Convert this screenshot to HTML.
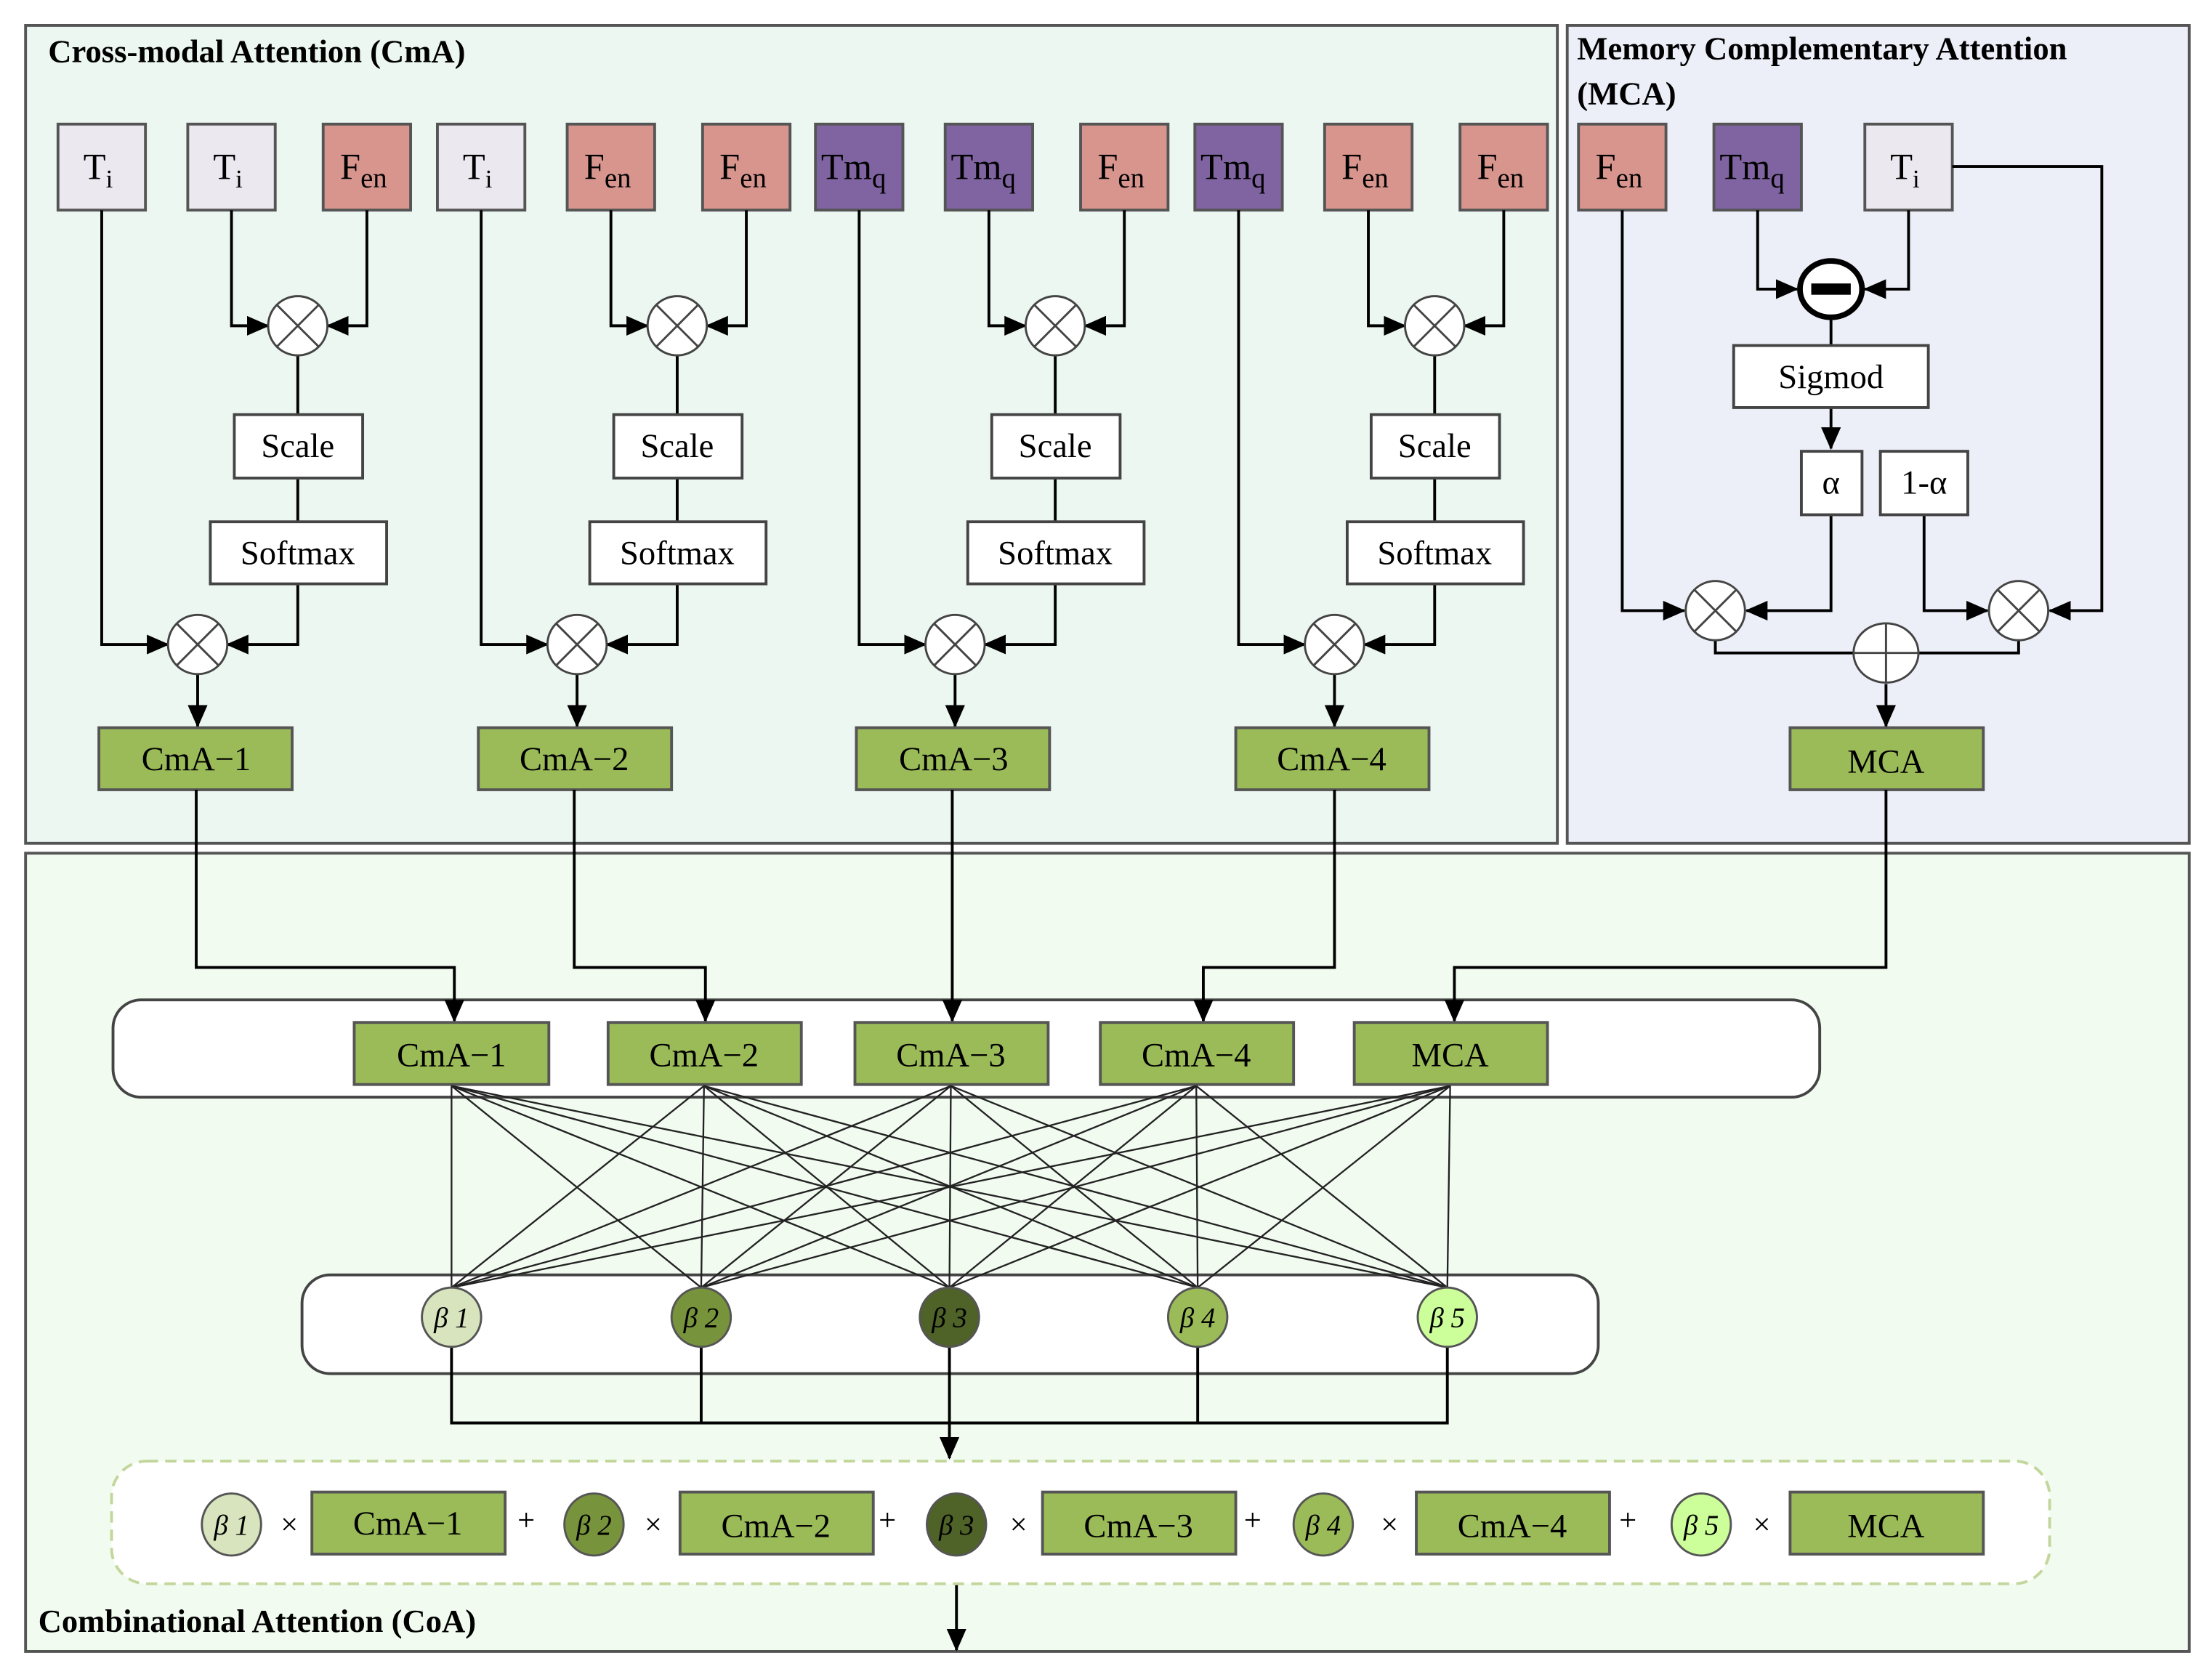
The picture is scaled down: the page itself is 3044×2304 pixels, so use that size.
<!DOCTYPE html>
<html><head><meta charset="utf-8">
<style>
html,body{margin:0;padding:0;background:#fff;}
svg{display:block;}
text{font-family:"Liberation Serif",serif;fill:#000;}
.t{font-size:26px;}
.b{font-size:24px;}
.h{font-size:23px;font-weight:bold;}
</style></head>
<body>
<svg id="s" width="3044" height="2304" viewBox="0 0 1568 1187" xmlns="http://www.w3.org/2000/svg">
<defs>
<marker id="a" markerWidth="10" markerHeight="10" refX="9" refY="5" orient="auto" markerUnits="userSpaceOnUse">
<path d="M0,0 L10,5 L0,10 L3,5 z" fill="#000"/></marker>
<marker id="a2" markerWidth="16" markerHeight="16" refX="15" refY="8" orient="auto" markerUnits="userSpaceOnUse">
<path d="M0,1 L16,8 L0,15 z" fill="#000"/></marker>
</defs>
<rect width="1568" height="1187" fill="#fff"/>
<!-- panels -->
<rect x="18" y="18" width="1086" height="580" fill="#ecf7f2" stroke="#555" stroke-width="2"/>
<rect x="1111" y="18" width="441" height="580" fill="#eceef8" stroke="#555" stroke-width="2"/>
<rect x="18" y="605" width="1534" height="566" fill="#f1fbf0" stroke="#555" stroke-width="2"/>
<text x="34" y="44" class="h">Cross-modal Attention (CmA)</text>
<text x="1118" y="42" class="h">Memory Complementary Attention</text>
<text x="1118" y="74" class="h">(MCA)</text>
<text x="27" y="1157" class="h">Combinational Attention (CoA)</text>

<g id="cma" stroke="#000" stroke-width="2" fill="none"></g>

<!-- tokens -->
<g stroke="#555" stroke-width="2">
<rect x="41" y="88" width="62" height="61" fill="#ebe8ef"/>
<rect x="133" y="88" width="62" height="61" fill="#ebe8ef"/>
<rect x="229" y="88" width="62" height="61" fill="#d8958e"/>
<rect x="310" y="88" width="62" height="61" fill="#ebe8ef"/>
<rect x="402" y="88" width="62" height="61" fill="#d8958e"/>
<rect x="498" y="88" width="62" height="61" fill="#d8958e"/>
<rect x="578" y="88" width="62" height="61" fill="#8064a2"/>
<rect x="670" y="88" width="62" height="61" fill="#8064a2"/>
<rect x="766" y="88" width="62" height="61" fill="#d8958e"/>
<rect x="847" y="88" width="62" height="61" fill="#8064a2"/>
<rect x="939" y="88" width="62" height="61" fill="#d8958e"/>
<rect x="1035" y="88" width="62" height="61" fill="#d8958e"/>
<rect x="1119" y="88" width="62" height="61" fill="#d8958e"/>
<rect x="1215" y="88" width="62" height="61" fill="#8064a2"/>
<rect x="1322" y="88" width="62" height="61" fill="#ebe8ef"/>
</g>
<g class="t">
<text x="59" y="127">T<tspan font-size="18" dy="6">i</tspan></text>
<text x="151" y="127">T<tspan font-size="18" dy="6">i</tspan></text>
<text x="241" y="127">F<tspan font-size="20" dy="6">en</tspan></text>
<text x="328" y="127">T<tspan font-size="18" dy="6">i</tspan></text>
<text x="414" y="127">F<tspan font-size="20" dy="6">en</tspan></text>
<text x="510" y="127">F<tspan font-size="20" dy="6">en</tspan></text>
<text x="582" y="127">Tm<tspan font-size="20" dy="6">q</tspan></text>
<text x="674" y="127">Tm<tspan font-size="20" dy="6">q</tspan></text>
<text x="778" y="127">F<tspan font-size="20" dy="6">en</tspan></text>
<text x="851" y="127">Tm<tspan font-size="20" dy="6">q</tspan></text>
<text x="951" y="127">F<tspan font-size="20" dy="6">en</tspan></text>
<text x="1047" y="127">F<tspan font-size="20" dy="6">en</tspan></text>
<text x="1131" y="127">F<tspan font-size="20" dy="6">en</tspan></text>
<text x="1219" y="127">Tm<tspan font-size="20" dy="6">q</tspan></text>
<text x="1340" y="127">T<tspan font-size="18" dy="6">i</tspan></text>
</g>

<g class="b" text-anchor="middle">
<text x="211" y="324">Scale</text><text x="480" y="324">Scale</text><text x="748" y="324">Scale</text><text x="1017" y="324">Scale</text>
<text x="211" y="400">Softmax</text><text x="480" y="400">Softmax</text><text x="748" y="400">Softmax</text><text x="1017" y="400">Softmax</text>
<text x="139" y="546">CmA−1</text><text x="407" y="546">CmA−2</text><text x="676" y="546">CmA−3</text><text x="944" y="546">CmA−4</text>
</g>

<!-- MCA panel -->
<g stroke="#000" stroke-width="2" fill="none">
<polyline points="1246,149 1246,205 1274,205" marker-end="url(#a2)"/>
<polyline points="1353,149 1353,205 1322,205" marker-end="url(#a2)"/>
<line x1="1298" y1="225" x2="1298" y2="245"/>
<line x1="1298" y1="289" x2="1298" y2="318" marker-end="url(#a2)"/>
<polyline points="1150,149 1150,433 1194,433" marker-end="url(#a2)"/>
<polyline points="1298,365 1298,433 1238,433" marker-end="url(#a2)"/>
<polyline points="1364,365 1364,433 1409,433" marker-end="url(#a2)"/>
<polyline points="1384,118 1490,118 1490,433 1453,433" marker-end="url(#a2)"/>
<polyline points="1216,453 1216,463 1315,463"/>
<polyline points="1431,453 1431,463 1359,463"/>
<line x1="1337" y1="485" x2="1337" y2="515" marker-end="url(#a2)"/>
</g>
<ellipse cx="1298" cy="205" rx="22" ry="20" fill="#fff" stroke="#000" stroke-width="4"/>
<rect x="1284" y="201" width="28" height="8" fill="#000"/>
<rect x="1229" y="245" width="138" height="44" fill="#fff" stroke="#444" stroke-width="2"/>
<text x="1298" y="275" class="b" text-anchor="middle">Sigmod</text>
<rect x="1277" y="320" width="43" height="45" fill="#fff" stroke="#444" stroke-width="2"/>
<text x="1298" y="350" class="b" text-anchor="middle">α</text>
<rect x="1333" y="320" width="62" height="45" fill="#fff" stroke="#444" stroke-width="2"/>
<text x="1364" y="350" class="b" text-anchor="middle">1-α</text>
<g fill="#fff" stroke="#444" stroke-width="1.5">
<ellipse cx="1216" cy="433" rx="21" ry="21"/><line x1="1201" y1="418" x2="1231" y2="448"/><line x1="1231" y1="418" x2="1201" y2="448"/>
<ellipse cx="1431" cy="433" rx="21" ry="21"/><line x1="1416" y1="418" x2="1446" y2="448"/><line x1="1446" y1="418" x2="1416" y2="448"/>
<ellipse cx="1337" cy="463" rx="23" ry="21"/><line x1="1314" y1="463" x2="1360" y2="463"/><line x1="1337" y1="442" x2="1337" y2="484"/>
</g>
<rect x="1269" y="516" width="137" height="44" fill="#9bbb59" stroke="#555" stroke-width="2"/>
<text x="1337" y="548" class="b" text-anchor="middle">MCA</text>

<!-- CoA -->
<rect x="80" y="709" width="1210" height="69" rx="20" fill="#fff" stroke="#444" stroke-width="2"/>
<g stroke="#000" stroke-width="2" fill="none">
<polyline points="139,560 139,686 322,686 322,724" marker-end="url(#a2)"/>
<polyline points="407,560 407,686 500,686 500,724" marker-end="url(#a2)"/>
<polyline points="675,560 675,724" marker-end="url(#a2)"/>
<polyline points="946,560 946,686 853,686 853,724" marker-end="url(#a2)"/>
<polyline points="1337,560 1337,686 1031,686 1031,724" marker-end="url(#a2)"/>
</g>
<g id="mesh" stroke="#222" stroke-width="1.2"></g>
<g fill="#9bbb59" stroke="#555" stroke-width="2">
<rect x="251" y="725" width="138" height="44"/><rect x="431" y="725" width="137" height="44"/>
<rect x="606" y="725" width="137" height="44"/><rect x="780" y="725" width="137" height="44"/>
<rect x="960" y="725" width="137" height="44"/>
</g>
<g class="b" text-anchor="middle">
<text x="320" y="756">CmA−1</text><text x="499" y="756">CmA−2</text><text x="674" y="756">CmA−3</text><text x="848" y="756">CmA−4</text><text x="1028" y="756">MCA</text>
</g>
<rect x="214" y="904" width="919" height="70" rx="20" fill="#fff" stroke="#444" stroke-width="2"/>
<g id="mesh2" stroke="#222" stroke-width="1.2"></g>
<g stroke="#000" stroke-width="2" fill="none">
<polyline points="320,955 320,1009 1026,1009 1026,955"/>
<line x1="497" y1="955" x2="497" y2="1009"/><line x1="849" y1="955" x2="849" y2="1009"/>
<line x1="673" y1="955" x2="673" y2="1034" marker-end="url(#a2)"/>
</g>
<g stroke="#555" stroke-width="1.5">
<ellipse cx="320" cy="934" rx="21" ry="21" fill="#d7e4bd"/>
<ellipse cx="497" cy="934" rx="21" ry="21" fill="#77933c"/>
<ellipse cx="673" cy="934" rx="21" ry="21" fill="#4f6228"/>
<ellipse cx="849" cy="934" rx="21" ry="21" fill="#9bbb59"/>
<ellipse cx="1026" cy="934" rx="21" ry="21" fill="#ccff99"/>
</g>
<g font-size="20" font-style="italic" text-anchor="middle">
<text x="320" y="941">β 1</text><text x="497" y="941">β 2</text><text x="673" y="941">β 3</text><text x="849" y="941">β 4</text><text x="1026" y="941">β 5</text>
</g>

<rect x="79" y="1036" width="1374" height="87" rx="25" fill="#fff" stroke="#c3d69b" stroke-width="2" stroke-dasharray="8,5"/>
<g stroke="#555" stroke-width="1.5">
<ellipse cx="164" cy="1081" rx="21" ry="22" fill="#d7e4bd"/>
<ellipse cx="421" cy="1081" rx="21" ry="22" fill="#77933c"/>
<ellipse cx="678" cy="1081" rx="21" ry="22" fill="#4f6228"/>
<ellipse cx="938" cy="1081" rx="21" ry="22" fill="#9bbb59"/>
<ellipse cx="1206" cy="1081" rx="21" ry="22" fill="#ccff99"/>
</g>
<g font-size="20" font-style="italic" text-anchor="middle">
<text x="164" y="1088">β 1</text><text x="421" y="1088">β 2</text><text x="678" y="1088">β 3</text><text x="938" y="1088">β 4</text><text x="1206" y="1088">β 5</text>
</g>
<g fill="#9bbb59" stroke="#555" stroke-width="2">
<rect x="221" y="1058" width="137" height="44"/><rect x="482" y="1058" width="137" height="44"/>
<rect x="739" y="1058" width="137" height="44"/><rect x="1004" y="1058" width="137" height="44"/>
<rect x="1269" y="1058" width="137" height="44"/>
</g>
<g class="b" text-anchor="middle">
<text x="289" y="1088">CmA−1</text><text x="550" y="1090">CmA−2</text><text x="807" y="1090">CmA−3</text><text x="1072" y="1090">CmA−4</text><text x="1337" y="1090">MCA</text>
</g>
<g font-size="22" text-anchor="middle" font-family="Liberation Sans,sans-serif">
<text x="205" y="1088">×</text><text x="373" y="1085">+</text><text x="463" y="1088">×</text><text x="629" y="1085">+</text>
<text x="722" y="1088">×</text><text x="888" y="1085">+</text><text x="985" y="1088">×</text><text x="1154" y="1085">+</text><text x="1249" y="1088">×</text>
</g>
<line x1="678" y1="1124" x2="678" y2="1170" stroke="#000" stroke-width="2" marker-end="url(#a2)"/>

<script>
(function(){
var NS="http://www.w3.org/2000/svg";
function el(p,t,a){var e=document.createElementNS(NS,t);for(var k in a)e.setAttribute(k,a[k]);p.appendChild(e);return e;}
var g=document.getElementById("cma");
var offs=[0,269,537,806];
offs.forEach(function(o){
 var ax=72+o,bx=164+o,cx=260+o,m=211+o,l=140+o;
 el(g,"polyline",{points:bx+",149 "+bx+",231 "+(m-21)+",231","marker-end":"url(#a2)"});
 el(g,"polyline",{points:cx+",149 "+cx+",231 "+(m+21)+",231","marker-end":"url(#a2)"});
 el(g,"line",{x1:m,y1:251,x2:m,y2:294});
 el(g,"line",{x1:m,y1:339,x2:m,y2:370});
 el(g,"polyline",{points:ax+",149 "+ax+",457 "+(l-21)+",457","marker-end":"url(#a2)"});
 el(g,"polyline",{points:m+",414 "+m+",457 "+(l+21)+",457","marker-end":"url(#a2)"});
 el(g,"line",{x1:l,y1:477,x2:l,y2:515,"marker-end":"url(#a2)"});
 var c=[[m,231],[l,457]];
 c.forEach(function(p){
  el(g,"ellipse",{cx:p[0],cy:p[1],rx:21,ry:21,fill:"#fff",stroke:"#444","stroke-width":1.5});
  el(g,"line",{x1:p[0]-15,y1:p[1]-15,x2:p[0]+15,y2:p[1]+15,stroke:"#444","stroke-width":1.5});
  el(g,"line",{x1:p[0]+15,y1:p[1]-15,x2:p[0]-15,y2:p[1]+15,stroke:"#444","stroke-width":1.5});
 });
 el(g,"rect",{x:166+o,y:294,width:91,height:45,fill:"#fff",stroke:"#444"});
 el(g,"rect",{x:149+o,y:370,width:125,height:44,fill:"#fff",stroke:"#444"});
 el(g,"rect",{x:70+o,y:516,width:137,height:44,fill:"#9bbb59",stroke:"#555"});
});
var s=document.getElementById("s");
var texts=s.querySelectorAll("g.b");
s.insertBefore(g, texts[0]);
var mesh=document.getElementById("mesh2");
var top=[320,499,674,848,1028],bot=[320,497,673,849,1026];
top.forEach(function(x){bot.forEach(function(y){el(mesh,"line",{x1:x,y1:770,x2:y,y2:913});});});
})();
</script>
</svg>
</body></html>
